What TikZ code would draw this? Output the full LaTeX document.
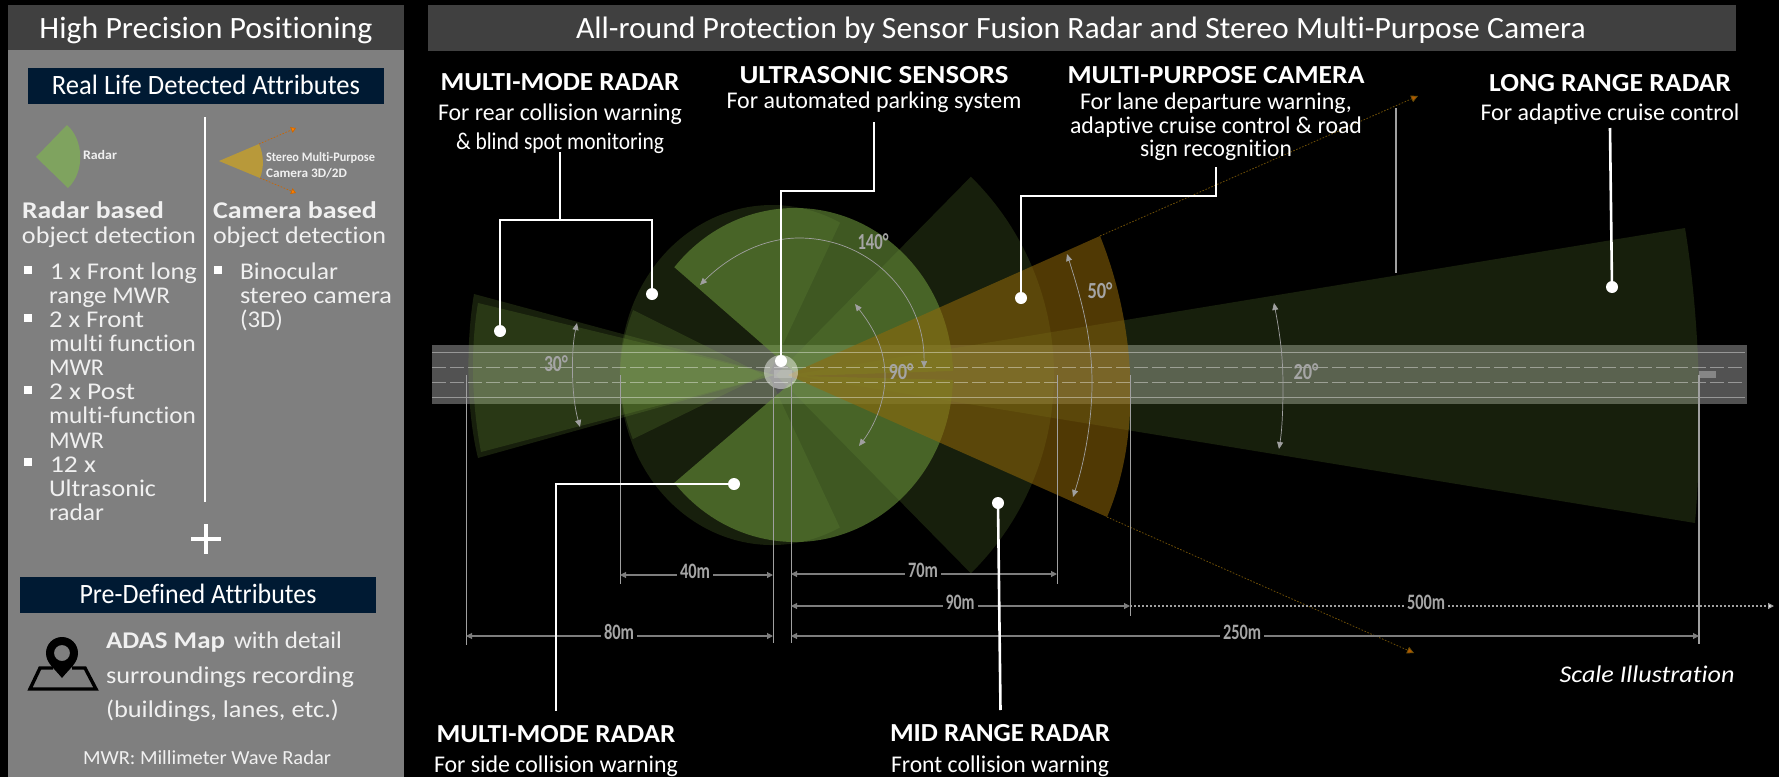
\documentclass[tikz,border=0pt]{standalone}
\usepackage{fontspec}
\usepackage{graphicx}
\setmainfont[Ligatures=NoCommon]{Carlito}
\usetikzlibrary{arrows.meta}
\newsavebox\fitbox
% text set to a measured width in px (1px = .5pt), scaled along x only
\newcommand\fitx[2]{\sbox\fitbox{#2}\pgfmathsetmacro\fitratio{#1*0.5/\wd\fitbox}\scalebox{\fitratio}[1]{\usebox\fitbox}}
\newcommand\fs[1]{\fontsize{#1}{#1}\selectfont}
\definecolor{panel}{RGB}{127,127,127}
\definecolor{head}{RGB}{64,64,64}
\definecolor{navy}{RGB}{0,26,51}
\definecolor{grn}{RGB}{128,172,67}
\definecolor{grnb}{RGB}{105,147,58}
\definecolor{org}{RGB}{147,105,9}
\definecolor{dimc}{RGB}{125,125,125}
\definecolor{extc}{RGB}{160,160,160}
\definecolor{lbl}{RGB}{165,165,165}
\definecolor{txtc}{RGB}{240,240,240}
\definecolor{iconr}{RGB}{127,163,95}
\definecolor{iconc}{RGB}{184,153,58}
\tikzset{
  t/.style={inner sep=0pt,outer sep=0pt,text=txtc,anchor=base west},
  tc/.style={inner sep=0pt,outer sep=0pt,text=white,anchor=base},
  lay/.style={fill=grn,fill opacity=.18},
  layb/.style={fill=grnb,fill opacity=.6},
  camf/.style={fill=org,fill opacity=.55},
  wire/.style={draw=white,line width=1.3pt,line join=miter},
  wdot/.style={circle,fill=white,inner sep=0pt,minimum size=6pt},
  dimn/.style={inner sep=0pt,outer sep=1.5pt,text=lbl,font=\bfseries\fs{11}},
  dimh/.style={draw=dimc,line width=.55pt},
  extl/.style={draw=extc,line width=.5pt},
  ang/.style={draw=extc,line width=.35pt,{Triangle[length=3.5pt,width=3pt]}-{Triangle[length=3.5pt,width=3pt]}},
  angn/.style={inner sep=0pt,text=lbl,font=\bfseries\fs{11.5}},
  lane/.style={draw=white,draw opacity=.4,line width=.5pt},
  lanedash/.style={lane,dash pattern=on 7pt off 2pt},
  camdot/.style={draw=org!75!black,line width=.4pt,dash pattern=on .8pt off .8pt,-{Triangle[length=3.5pt,width=3.5pt,fill=orange!70!black]}},
}
% sector: apex, ellipse centre, radii, angles (screen sense)
\newcommand\sector[9]{\fill[#1] (#2,#3) -- ([shift={(#4,#5)}]#8:#6 and #7) arc[start angle=#8,end angle=#9,x radius=#6,y radius=#7] -- cycle;}
% horizontal dimension with its label in a gap
\newcommand\hdim[7]{%
  \coordinate (#1a) at (#2,#4); \coordinate (#1b) at (#3,#4);
  \node[dimn] (#1t) at (#6,#4-4) {\fitx{#7}{#5}};
  \draw[dimh,{Triangle[length=3pt,width=3pt]}-] (#1a) -- (#1t.west |- #1a);
  \draw[dimh,-{Triangle[length=3pt,width=3pt]}] (#1t.east |- #1a) -- (#1b);}
\begin{document}
\begin{tikzpicture}[x=.5pt,y=-.5pt]
\useasboundingbox (0,0) rectangle (1779,777);
\fill[black] (0,0) rectangle (1779,777);
% left panel
\fill[panel] (8,5) rectangle (404,777);
\fill[head] (8,5) rectangle (404,50);
\fill[navy] (28,68) rectangle (384,104);
\fill[navy] (20,577) rectangle (376,613);
\fill[head] (428,5) rectangle (1736,51);
\draw[white,line width=.6pt] (205,117) -- (205,502);
\draw[white,line width=1.6pt] (191,539) -- (221,539) (206,524) -- (206,554);
\node[tc] (h1) at (206,38) {\fs{15.5}\fitx{333}{High Precision Positioning}};
\node[tc] (h2) at (206,94) {\fs{14}\fitx{308}{Real Life Detected Attributes}};
\node[tc] (h3) at (198,603) {\fs{14}\fitx{237}{Pre-Defined Attributes}};
\node[tc] (h4) at (1081,38) {\fs{15.5}\fitx{1010}{All-round Protection by Sensor Fusion Radar and Stereo Multi-Purpose Camera}};
% icons
\fill[iconr] (36,157) -- (67,125) .. controls (84,140) and (85,172) .. (68,188) -- cycle;
\node[t,font=\bfseries\fs{6.5}] (iconR) at (83,159) {\fitx{34}{Radar}};
\fill[iconc] (219,161) -- (259,144) .. controls (264,155) and (264,168) .. (260,178) -- cycle;
\coordinate (ca) at (259,144); \coordinate (cb) at (260,178);
\coordinate (cc) at (296,128); \coordinate (cd) at (296,193);
\draw[orange!80!black,line width=.35pt,dash pattern=on .8pt off .8pt,-{Triangle[length=2.5pt,width=3pt,fill=orange]}] (ca) -- (cc);
\draw[orange!80!black,line width=.35pt,dash pattern=on .8pt off .8pt,-{Triangle[length=2.5pt,width=3pt,fill=orange]}] (cb) -- (cd);
\node[t,font=\bfseries\fs{6.5}] (iconC1) at (266,161) {\fitx{109}{Stereo Multi-Purpose}};
\node[t,font=\bfseries\fs{6.5}] (iconC2) at (266,177) {\fitx{81}{Camera 3D/2D}};
% left text
\node[t,font=\bfseries\fs{12}] (a1) at (22,218) {\fitx{142}{Radar based}};
\node[t,font=\fs{12}] (a2) at (22,243) {\fitx{174}{object detection}};
\node[t,font=\bfseries\fs{12}] (b1) at (213,218) {\fitx{164}{Camera based}};
\node[t,font=\fs{12}] (b2) at (213,243) {\fitx{173}{object detection}};
\foreach \yy in {270,318,390,462} \fill[white] (24,\yy-4) rectangle (32,\yy+4);
\fill[white] (214,266) rectangle (222,274);
\node[t,font=\fs{12}] (l1) at (50,279) {\fitx{147}{1 x Front long}};
\node[t,font=\fs{12}] (l2) at (49,303) {\fitx{121}{range MWR}};
\node[t,font=\fs{12}] (l3) at (49,327) {\fitx{95}{2 x Front}};
\node[t,font=\fs{12}] (l4) at (49,351) {\fitx{147}{multi function}};
\node[t,font=\fs{12}] (l5) at (49,375) {\fitx{55}{MWR}};
\node[t,font=\fs{12}] (l6) at (49,399) {\fitx{86}{2 x Post}};
\node[t,font=\fs{12}] (l7) at (49,423) {\fitx{147}{multi-function}};
\node[t,font=\fs{12}] (l8) at (49,448) {\fitx{55}{MWR}};
\node[t,font=\fs{12}] (l9) at (50,472) {\fitx{46}{12 x}};
\node[t,font=\fs{12}] (l10) at (49,496) {\fitx{107}{Ultrasonic}};
\node[t,font=\fs{12}] (l11) at (49,520) {\fitx{55}{radar}};
\node[t,font=\fs{12}] (m1) at (240,279) {\fitx{98}{Binocular}};
\node[t,font=\fs{12}] (m2) at (240,303) {\fitx{152}{stereo camera}};
\node[t,font=\fs{12}] (m3) at (240,327) {\fitx{43}{(3D)}};
\node[t,font=\bfseries\fs{12}] (p1) at (106,648) {\fitx{119}{ADAS Map}};
\node[t,font=\fs{12}] (p1b) at (234,648) {\fitx{108}{with detail}};
\node[t,font=\fs{12}] (p2) at (106,683) {\fitx{248}{surroundings recording}};
\node[t,font=\fs{12}] (p3) at (106,717) {\fitx{233}{(buildings, lanes, etc.)}};
\node[t,anchor=base,font=\fs{10}] (mwr) at (207,764) {\fitx{248}{MWR: Millimeter Wave Radar}};
% map icon
\draw[black,line width=1.7pt,line join=miter] (53,668) -- (40,668) -- (30,689) -- (96,689) -- (85,668) -- (72,668);
\fill[black,even odd rule] (62,678) .. controls (54,668) and (46,663) .. (46,653) arc[start angle=180,end angle=360,radius=16] .. controls (78,663) and (70,668) .. (62,678) -- cycle (62,653) circle[radius=8];
% road, under the sectors
\fill[white,fill opacity=.32] (432,345) rectangle (1747,404);
% dark single layers
\fill[lay] (791,375) -- (1685,228) .. controls (1700,320) and (1703,430) .. (1695,523) -- cycle;
\sector{lay}{776}{375}{776}{375}{278}{278}{-45.5}{45.5}
\sector{lay}{770}{372}{772}{372}{152}{167}{156.3}{296.6}
\sector{lay}{770}{378}{772}{378}{152}{167}{63.5}{204}
\fill[lay] (775,375) -- (474,294) .. controls (466,340) and (466,410) .. (478,458) -- cycle;
\fill[lay] (775,375) -- (478,303) .. controls (470,350) and (472,405) .. (481,452) -- cycle;
% bright side sectors
\sector{layb}{799}{376}{795}{375}{158}{167}{220.2}{358.6}
\sector{layb}{799}{376}{795}{375}{158}{167}{1.7}{139.8}
% camera
\fill[camf] (788,375) -- (1100,236) .. controls (1134,320) and (1144,430) .. (1107,517) -- cycle;
\coordinate (ctop) at (1100,236); \coordinate (ctopEnd) at (1418,96);
\coordinate (cbot) at (1107,517); \coordinate (cbotEnd) at (1414,653);
\draw[camdot] (ctop) -- (ctopEnd);
\draw[camdot] (cbot) -- (cbotEnd);
% lanes
\draw[lane] (432,352) -- (1745,352) (432,397) -- (1745,397);
\draw[lanedash] (432,367) -- (1745,367) (432,382) -- (1745,382);
% car markers
\fill[white,fill opacity=.45] (781,372) circle[radius=17];
\fill[white,fill opacity=.2] (774,370) rectangle (792,378);
\fill[white,fill opacity=.3] (1699,371) rectangle (1716,378);
% extension lines
\draw[extl] (466,375) -- (466,645);
\draw[extl] (620,375) -- (620,584);
\draw[extl] (773,378) -- (773,643);
\draw[extl] (791,378) -- (791,643);
\draw[extl] (1057.5,375) -- (1057.5,584);
\draw[extl] (1130,375) -- (1130,616);
\draw[extl,line width=.9pt] (1699,375) -- (1699,644);
\draw[extl,line width=.7pt] (1396,108) -- (1396,273);
% dimensions
\hdim{d40}{620}{773}{575}{40m}{695}{30}
\hdim{d70}{791}{1057}{574}{70m}{923}{30}
\hdim{d90}{791}{1130}{606}{90m}{960}{29}
\hdim{d80}{466}{773}{636}{80m}{619}{30}
\hdim{d250}{791}{1699}{636}{250m}{1242}{38}
\coordinate (d500a) at (1130,606); \coordinate (d500b) at (1774,606);
\node[dimn] (d500t) at (1426,602) {\fitx{38}{500m}};
\draw[extl,line width=.6pt,dash pattern=on 1pt off 1pt] (d500a) -- (d500t.west |- d500a);
\draw[extl,line width=.6pt,dash pattern=on 1pt off 1pt,-{Triangle[length=3pt,width=3pt,fill=white]}] (d500t.east |- d500a) -- (d500b);
% angle arcs
\draw[ang] (577,323) .. controls (571,350) and (571,395) .. (580,427);
\node[angn] (n30) at (556,364) {\fitx{24}{30°}};
\draw[ang] (700,285) .. controls (730,255) and (765,238) .. (799,238) .. controls (870,238) and (925,295) .. (924,368);
\node[angn] (n140) at (873,242) {\fitx{31}{140°}};
\draw[ang] (855,304) .. controls (875,330) and (885,350) .. (885,377) .. controls (885,400) and (875,425) .. (859,446);
\node[angn] (n90) at (901,372) {\fitx{25}{90°}};
\draw[ang] (1067,254) .. controls (1085,310) and (1092,345) .. (1092,383) .. controls (1092,420) and (1085,460) .. (1073,497);
\node[angn] (n50) at (1100,291) {\fitx{25}{50°}};
\draw[ang] (1274,303) .. controls (1281,340) and (1283,360) .. (1283,387) .. controls (1283,410) and (1282,430) .. (1279,449);
\node[angn] (n20) at (1306,372) {\fitx{25}{20°}};
% callout dots and wires
\node[wdot] (dA) at (500,331) {};
\node[wdot] (dB) at (652,294) {};
\node[wdot] (dC) at (781,361) {};
\node[wdot] (dD) at (1021,298) {};
\node[wdot] (dE) at (1612,287) {};
\node[wdot] (dF) at (734,484) {};
\node[wdot] (dG) at (998,503) {};
\coordinate (wA) at (560,152); \coordinate (hubA) at (560,220);
\coordinate (wC) at (874,122); \coordinate (hubC) at (874,191);
\coordinate (wD) at (1216,167); \coordinate (hubD) at (1216,196);
\coordinate (wE) at (1610,128);
\coordinate (wF) at (556,711);
\coordinate (wG) at (1000.5,710);
\draw[wire] (dA.center) -- (dA |- hubA) -- (dB |- hubA) -- (dB.center);
\draw[wire] (wA) -- (hubA);
\draw[wire] (wC) -- (hubC) -- (dC |- hubC) -- (dC.center);
\draw[wire] (wD) -- (hubD) -- (dD |- hubD) -- (dD.center);
\draw[wire] (wE) -- (dE.center);
\draw[wire] (dF.center) -- (wF |- dF) -- (wF);
\draw[wire] (dG.center) -- (wG);
% right labels
\node[tc,font=\bfseries\fs{13}] (r1) at (560,90) {\fitx{239}{MULTI-MODE RADAR}};
\node[tc,font=\fs{12}] (r1a) at (560,120) {\fitx{244}{For rear collision warning}};
\node[tc,font=\fs{12}] (r1b) at (560,149) {\fitx{208}{\& blind spot monitoring}};
\node[tc,font=\bfseries\fs{13}] (r2) at (874,83) {\fitx{269}{ULTRASONIC SENSORS}};
\node[tc,font=\fs{12}] (r2a) at (874,108) {\fitx{295}{For automated parking system}};
\node[tc,font=\bfseries\fs{13}] (r3) at (1216,83) {\fitx{297}{MULTI-PURPOSE CAMERA}};
\node[tc,font=\fs{12}] (r3a) at (1216,109) {\fitx{272}{For lane departure warning,}};
\node[tc,font=\fs{12}] (r3b) at (1216,133) {\fitx{292}{adaptive cruise control \& road}};
\node[tc,font=\fs{12}] (r3c) at (1216,156) {\fitx{152}{sign recognition}};
\node[tc,font=\bfseries\fs{13}] (r4) at (1610,91) {\fitx{242}{LONG RANGE RADAR}};
\node[tc,font=\fs{12}] (r4a) at (1610,120) {\fitx{259}{For adaptive cruise control}};
\node[tc,font=\bfseries\fs{13}] (r5) at (556,742) {\fitx{239}{MULTI-MODE RADAR}};
\node[tc,font=\fs{12}] (r5a) at (556,772) {\fitx{244}{For side collision warning}};
\node[tc,font=\bfseries\fs{13}] (r6) at (1000,741) {\fitx{220}{MID RANGE RADAR}};
\node[tc,font=\fs{12}] (r6a) at (1000,772) {\fitx{218}{Front collision warning}};
\node[tc,font=\itshape\fs{12}] (sc) at (1647,682) {\fitx{175}{Scale Illustration}};
\end{tikzpicture}
\end{document}
